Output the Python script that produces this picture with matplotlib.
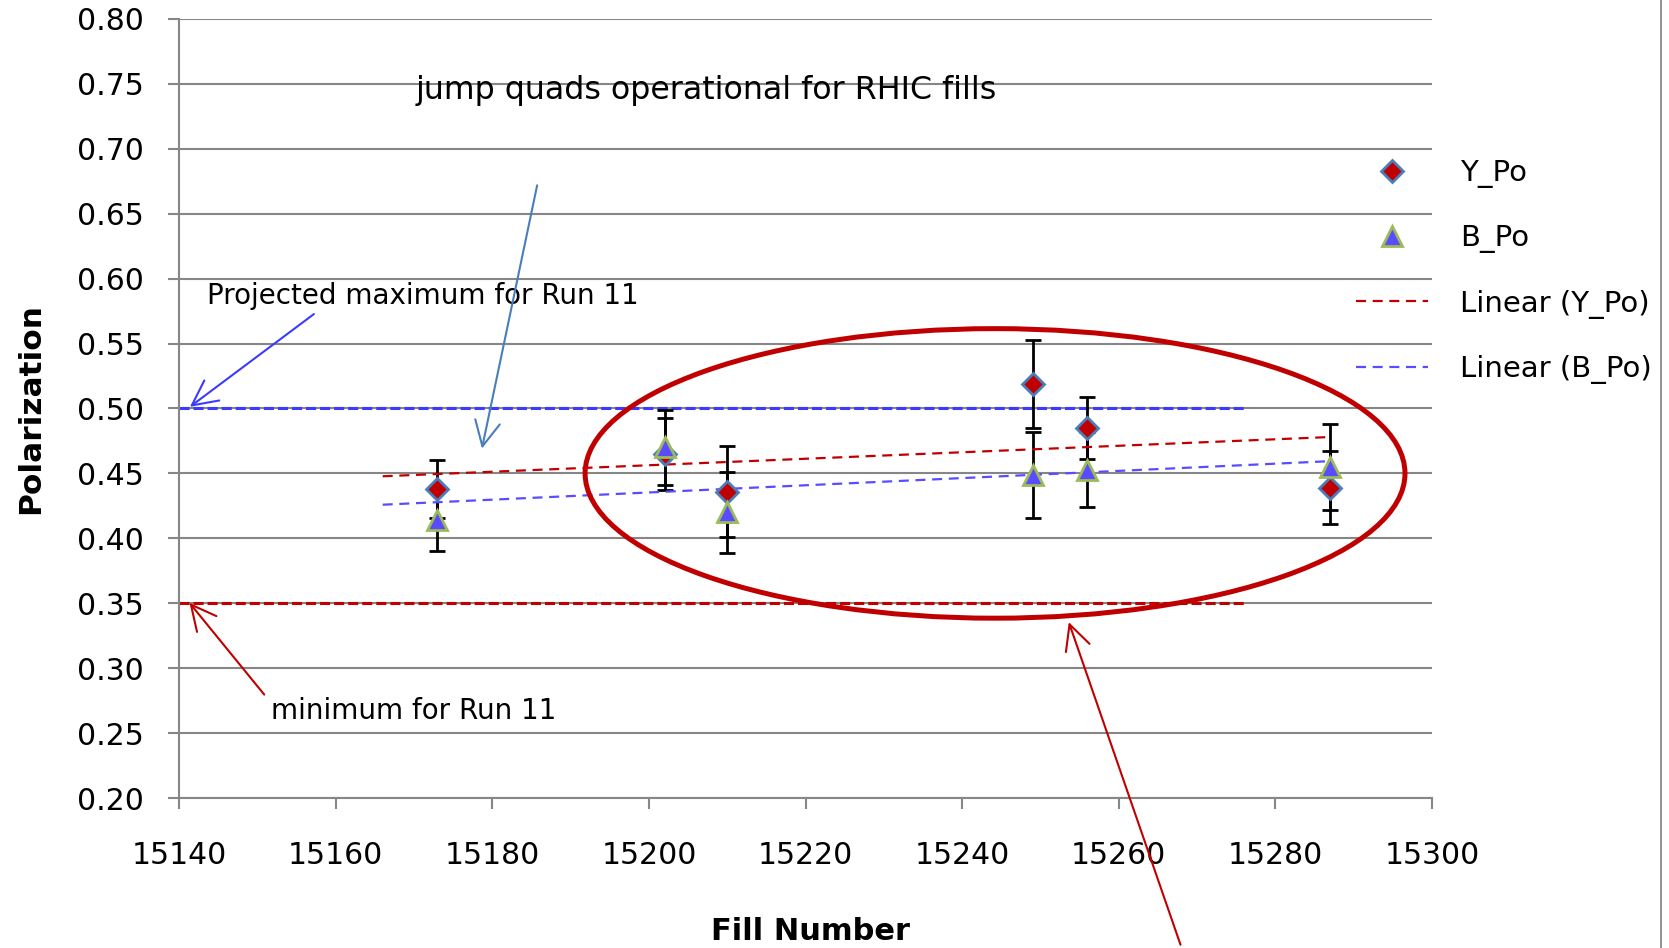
import numpy as np
import matplotlib
matplotlib.use("Agg")
import matplotlib.pyplot as plt
from matplotlib.patches import Ellipse
from matplotlib.lines import Line2D


# data
fills = [15173, 15202, 15210, 15249, 15256, 15287]

y_po = [0.438, 0.465, 0.436, 0.519, 0.485, 0.439]
y_err = [0.022, 0.028, 0.035, 0.034, 0.024, 0.028]

b_po = [0.414, 0.470, 0.420, 0.449, 0.453, 0.455]
b_err = [0.024, 0.029, 0.031, 0.033, 0.029, 0.033]

trend_range = [15166, 15287]

projected_max = 0.50
run11_min = 0.35
limit_range = [15140, 15276]

x_ticks = list(range(15140, 15301, 20))
y_ticks = [round(0.20 + 0.05 * i, 2) for i in range(13)]

# circled group of fills
circle_center = (15244.2, 0.45)
circle_width = 104.7
circle_height = 0.223

GRID = "#868686"
DARK_RED = "#C00000"
BLUE = "#3B3BFF"
TREND_BLUE = "#5A4BFF"
STEEL = "#4A7EBB"

plt.rcParams["font.family"] = ["DejaVu Sans"]

fig = plt.figure(figsize=(16.69, 9.48), dpi=100)
ax = fig.add_axes([0.1073, 0.1582, 0.7507, 0.8218])

########################################################
# axes styling
########################################################

ax.set_xlim(15140, 15300)
ax.set_ylim(0.20, 0.80)
ax.set_xticks(x_ticks)
ax.set_yticks(y_ticks)
ax.set_yticklabels([f"{v:.2f}" for v in y_ticks])

ax.tick_params(axis="both", colors=GRID, labelcolor="black",
               length=8, width=1.5, labelsize=21.5)
ax.tick_params(axis="x", pad=23)
ax.tick_params(axis="y", pad=17.5)

for side in ["top", "right"]:
    ax.spines[side].set_visible(False)
for side in ["left", "bottom"]:
    ax.spines[side].set_color(GRID)
    ax.spines[side].set_linewidth(1.5)

ax.yaxis.grid(True, color=GRID, linewidth=1.5)
ax.set_axisbelow(True)

ax.set_xlabel("Fill Number", fontsize=22, fontweight="bold")
ax.xaxis.set_label_coords(0.504, -0.153)
ax.set_ylabel("Polarization", fontsize=22.5, fontweight="bold")
ax.yaxis.set_label_coords(-0.107, 0.5)

########################################################
# limit lines
########################################################

ax.plot(limit_range, [projected_max, projected_max], color=BLUE,
        linewidth=2.2, dashes=(3.3, 1.3), zorder=2)
ax.plot(limit_range, [run11_min, run11_min], color=DARK_RED,
        linewidth=2.2, dashes=(3.3, 1.3), zorder=2)

########################################################
# error bars + points
########################################################

ax.errorbar(fills, y_po, yerr=y_err, fmt="none", ecolor="black",
            elinewidth=2, capsize=6, capthick=2, zorder=3)
ax.errorbar(fills, b_po, yerr=b_err, fmt="none", ecolor="black",
            elinewidth=2, capsize=6, capthick=2, zorder=3)

y_pts, = ax.plot(fills, y_po, linestyle="none", marker="D",
                 markersize=11.5, markerfacecolor=DARK_RED,
                 markeredgecolor=STEEL, markeredgewidth=2, zorder=5)
b_pts, = ax.plot(fills, b_po, linestyle="none", marker="^",
                 markersize=14, markerfacecolor="#5B4BFF",
                 markeredgecolor="#9BBB59", markeredgewidth=2, zorder=6)

########################################################
# linear trendlines
########################################################

tx = np.array(trend_range)
y_fit = np.polyfit(fills, y_po, 1)
b_fit = np.polyfit(fills, b_po, 1)

y_trend, = ax.plot(tx, np.polyval(y_fit, tx), color=DARK_RED,
                   linewidth=1.6, dashes=(4.5, 3), zorder=4)
b_trend, = ax.plot(tx, np.polyval(b_fit, tx), color=TREND_BLUE,
                   linewidth=1.6, dashes=(4.5, 3), zorder=4)

########################################################
# ellipse + annotations
########################################################

ax.add_patch(Ellipse(circle_center, circle_width, circle_height,
                     fill=False, edgecolor=DARK_RED, linewidth=3.6,
                     zorder=7))

arrow_style = "->,head_length=0.9,head_width=0.45"

ax.annotate("", xy=(15141.1, 0.500), xytext=(15157.5, 0.574),
            arrowprops=dict(arrowstyle=arrow_style, color=BLUE, lw=1.5,
                            mutation_scale=20),
            annotation_clip=False)
ax.text(15143.6, 0.587, "Projected maximum for Run 11", fontsize=20,
        va="center", ha="left")

ax.annotate("", xy=(15178.6, 0.467), xytext=(15185.8, 0.674),
            arrowprops=dict(arrowstyle=arrow_style, color=STEEL, lw=1.5,
                            mutation_scale=20),
            annotation_clip=False)
ax.text(15170.2, 0.745, "jump quads operational for RHIC fills",
        fontsize=22.8, va="center", ha="left")

ax.annotate("", xy=(15141.1, 0.352), xytext=(15151.1, 0.278),
            arrowprops=dict(arrowstyle=arrow_style, color=DARK_RED, lw=1.5,
                            mutation_scale=20),
            annotation_clip=False)
ax.text(15151.8, 0.267, "minimum for Run 11", fontsize=20,
        va="center", ha="left")

ax.annotate("", xy=(15253.5, 0.3375), xytext=(15268.0, 0.085),
            arrowprops=dict(arrowstyle=arrow_style, color=DARK_RED, lw=1.5,
                            mutation_scale=20),
            annotation_clip=False)

########################################################
# legend
########################################################

ax.legend([y_pts, b_pts, y_trend, b_trend],
          ["Y_Po", "B_Po", "Linear (Y_Po)", "Linear (B_Po)"],
          loc="upper left", bbox_to_anchor=(0.930, 0.8355),
          frameon=False, fontsize=21, numpoints=1, handlelength=2.47,
          handletextpad=1.1, labelspacing=1.25, borderaxespad=0)

# chart border on the right
fig.add_artist(Line2D([0.9955, 0.9955], [0, 1], color="#7F7F7F",
                      linewidth=1.2))

fig.savefig("out.png", dpi=100)
